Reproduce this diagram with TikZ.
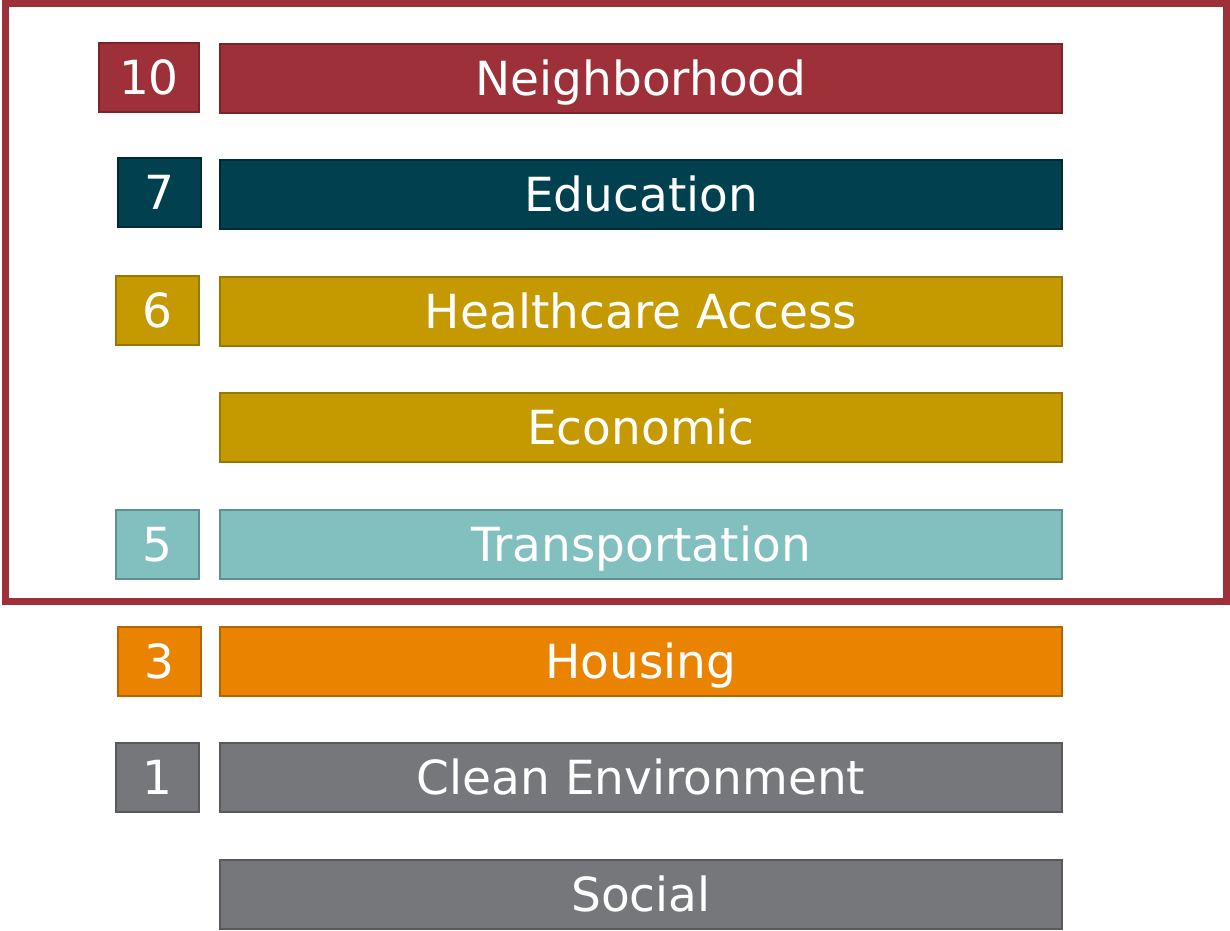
\documentclass[tikz,border=0pt]{standalone}
\usepackage{fontspec}
\setmainfont{DejaVu Sans}
\usepackage{tikz}
\usetikzlibrary{positioning}
\definecolor{nbred}{HTML}{9E3039}
\definecolor{nbredd}{HTML}{7A2329}
\definecolor{edteal}{HTML}{00404F}
\definecolor{edteald}{HTML}{002B35}
\definecolor{hcgold}{HTML}{C59900}
\definecolor{hcgoldd}{HTML}{9A7700}
\definecolor{trteal}{HTML}{82C0BF}
\definecolor{trteald}{HTML}{5F908F}
\definecolor{hsorange}{HTML}{E98300}
\definecolor{hsoranged}{HTML}{B46500}
\definecolor{envgray}{HTML}{76777A}
\definecolor{envgrayd}{HTML}{58595B}
\tikzset{
 bar/.style
  = {rectangle, draw, line width=2pt, text=white, inner sep=0pt,
     minimum width=842pt, minimum height=69pt, text height=34pt, text depth=0pt,
     font=\fontsize{47}{56}\selectfont},
 num/.style
  = {bar, minimum width=83pt},
 red/.style = {fill=nbred, draw=nbredd},
 teal/.style = {fill=edteal, draw=edteald},
 gold/.style = {fill=hcgold, draw=hcgoldd},
 lteal/.style = {fill=trteal, draw=trteald},
 orng/.style = {fill=hsorange, draw=hsoranged},
 gry/.style = {fill=envgray, draw=envgrayd},
}

\begin{document}
\begin{tikzpicture}[x=1pt, y=-1pt]
\useasboundingbox (0,0) rectangle (1230,930);
\node (nbh) [bar, red] at (641,78) {Neighborhood};
\node (edu) [bar, teal] at (641,194) {Education};
\node (hca) [bar, gold] at (641,311) {Healthcare Access};
\node (eco) [bar, gold] at (641,427.5) {Economic};
\node (trn) [bar, lteal] at (641,544.5) {Transportation};
\node (hsg) [bar, orng] at (641,661) {Housing};
\node (env) [bar, gry] at (641,777.5) {Clean Environment};
\node (soc) [bar, gry] at (641,894) {Social};
% counts
\node (nnbh) [num, red, minimum width=100pt] at (149,77.5) {10};
\node (nedu) [num, teal] at (159.5,192) {7};
\node (nhca) [num, gold] at (157.5,310) {6};
\node (ntrn) [num, lteal] at (157.5,544.5) {5};
\node (nhsg) [num, orng] at (159.5,661) {3};
\node (nenv) [num, gry] at (157.5,777) {1};
% frame
\draw [nbred, line width=7pt] (5.5,3.5) rectangle (1226.5,601);
\end{tikzpicture}
\end{document}
